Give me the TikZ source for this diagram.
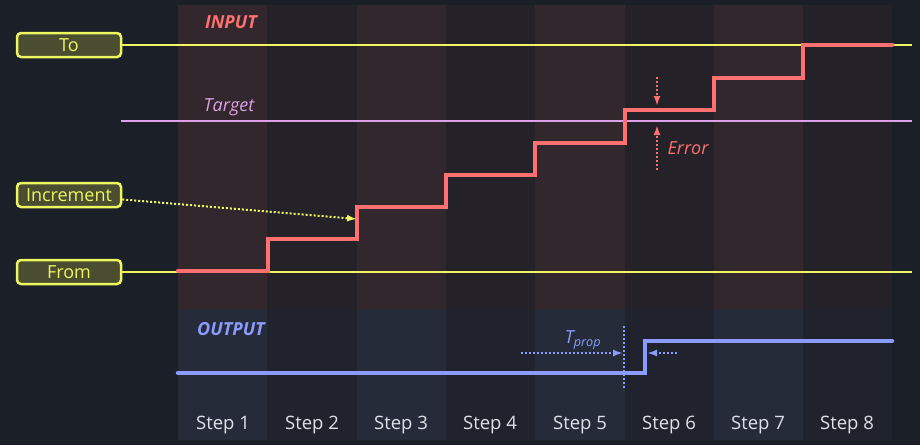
\documentclass[tikz,border=0pt]{standalone}
\usepackage{fontspec}
\setmainfont{Open Sans}
\usepackage{tikz}
\usetikzlibrary{positioning,arrows.meta}

\definecolor{bgcol}{RGB}{27,31,39}
\definecolor{yel}{RGB}{238,246,96}
\definecolor{tagfill}{RGB}{74,77,48}
\definecolor{inred}{RGB}{255,112,112}
\definecolor{tgtpink}{RGB}{222,160,232}
\definecolor{outblue}{RGB}{140,155,255}
\definecolor{steptxt}{RGB}{222,226,232}
\definecolor{inodd}{RGB}{50,39,45}
\definecolor{ineven}{RGB}{36,33,40}
\definecolor{outodd}{RGB}{38,43,58}
\definecolor{outeven}{RGB}{32,35,45}

\tikzset{
  tag/.style={draw=yel, fill=tagfill, line width=2.5pt, rounded corners=4pt,
    minimum width=104pt, minimum height=24pt, inner sep=0pt, text=yel,
    font=\fontsize{18}{21}\selectfont},
  limit/.style={yel, line width=2pt},
  dotarrow/.style={-{Latex[length=10pt,width=7pt]}, line width=2pt, dash pattern=on 2pt off 2pt},
  steplabel/.style={text=steptxt, font=\fontsize{18.5}{22}\selectfont},
  title/.style={font=\fontsize{18}{21}\selectfont\bfseries\itshape},
  label/.style={font=\fontsize{18}{21}\selectfont\itshape},
}

\begin{document}
\begin{tikzpicture}[x=1pt, y=-1pt]

\fill[bgcol] (0,0) rectangle (920,445);
\useasboundingbox (0,0) rectangle (920,445);

% Step columns, input part
\fill[inodd]  (178,5) rectangle (267,309);
\fill[ineven] (267,5) rectangle (357,309);
\fill[inodd]  (357,5) rectangle (446,309);
\fill[ineven] (446,5) rectangle (535,309);
\fill[inodd]  (535,5) rectangle (625,309);
\fill[ineven] (625,5) rectangle (714,309);
\fill[inodd]  (714,5) rectangle (803,309);
\fill[ineven] (803,5) rectangle (892,309);

% Step columns, output part
\fill[outodd]  (178,309) rectangle (267,440);
\fill[outeven] (267,309) rectangle (357,440);
\fill[outodd]  (357,309) rectangle (446,440);
\fill[outeven] (446,309) rectangle (535,440);
\fill[outodd]  (535,309) rectangle (625,440);
\fill[outeven] (625,309) rectangle (714,440);
\fill[outodd]  (714,309) rectangle (803,440);
\fill[outeven] (803,309) rectangle (892,440);

\node[title, text=inred] (input) at (231,22) {INPUT};
\node[title, text=outblue] (output) at (231,329) {OUTPUT};

% Tags on the left
\node[tag] (to) at (69,45) {To};
\node[tag] (inc) at (69,195) {Increment};
\node[tag] (from) at (69,272) {From};

% Draw horizontal lines
\coordinate (toend) at (912,45);
\coordinate (fromend) at (912,272);
\draw[limit] (to) -- (toend);
\draw[limit] (from) -- (fromend);

\coordinate (tgtstart) at (121,121);
\coordinate (tgtend) at (912,121);
\draw[tgtpink, line width=2pt] (tgtstart) -- (tgtend);
\node[label, text=tgtpink] (tgt) at (229,107) {Target};

% Input staircase
\draw[inred, line width=4.5pt, line cap=round] (178,271) -| (268,239) -| (357,207)
  -| (446,175) -| (535,143) -| (625,110) -| (714,78) -| (803,45) -- (892,45);

\coordinate (incend) at (357,219);
\draw[dotarrow, yel] (inc) -- (incend);

% Error marks
\coordinate (errA) at (657,77);
\coordinate (errB) at (657,106);
\coordinate (errC) at (657,170);
\coordinate (errD) at (657,125);
\draw[dotarrow, inred] (errA) -- (errB);
\draw[dotarrow, inred] (errC) -- (errD);
\node[label, text=inred] (err) at (688,148) {Error};

% Output line
\draw[outblue, line width=4.5pt, line cap=round] (178,373) -| (645,341) -- (892,341);

\coordinate (propA) at (624,326);
\coordinate (propB) at (624,390);
\draw[outblue, line width=2pt, dash pattern=on 2pt off 2pt] (propA) -- (propB);

\coordinate (tpstart) at (521,353);
\coordinate (tpend) at (623,353);
\draw[dotarrow, outblue] (tpstart) -- (tpend);
\node[label, text=outblue] (tprop) at (583,340) {T\textsubscript{prop}};

\coordinate (backstart) at (677,353);
\coordinate (backend) at (647,353);
\draw[dotarrow, outblue] (backstart) -- (backend);

% Step labels
\node[steplabel] (s1) at (223,425) {Step 1};
\node[steplabel] (s2) at (312,425) {Step 2};
\node[steplabel] (s3) at (401,425) {Step 3};
\node[steplabel] (s4) at (490,425) {Step 4};
\node[steplabel] (s5) at (580,425) {Step 5};
\node[steplabel] (s6) at (669,425) {Step 6};
\node[steplabel] (s7) at (758,425) {Step 7};
\node[steplabel] (s8) at (847,425) {Step 8};

\end{tikzpicture}
\end{document}
